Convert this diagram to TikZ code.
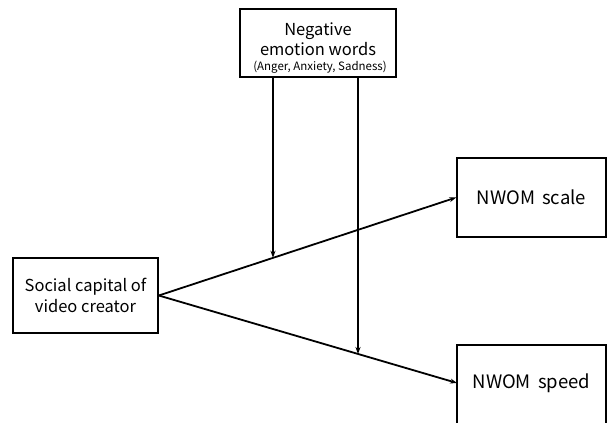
\documentclass[tikz,border=0pt]{standalone}
\usepackage{fontspec}
\setmainfont{Noto Sans CJK KR}
\usetikzlibrary{arrows.meta,calc}
\begin{document}
\begin{tikzpicture}[x=1pt,y=-1pt,
  box/.style={draw,line width=1.6pt,inner sep=0pt},
  conn/.style={line width=1.8pt,-{Stealth[length=7pt,width=5pt]}},
  vconn/.style={line width=1.4pt,-{Stealth[length=7pt,width=5pt]}}]
\useasboundingbox (0,0) rectangle (608,423);
\draw[box] (240,9) rectangle (396,77);
\node[align=center,font=\fontsize{16.5}{20}\selectfont] (negt) at (318,39) {Negative\\emotion words};
\node[font=\fontsize{11.5}{13}\selectfont] (negs) at (320,67) {(Anger, Anxiety, Sadness)};
\node[box,minimum width=145pt,minimum height=75pt,align=center,font=\fontsize{16.5}{21}\selectfont] (soc) at (85.5,295.5) {Social capital of\\video creator};
\node[box,minimum width=149pt,minimum height=79pt,font=\fontsize{18.5}{20}\selectfont] (sc) at (531.5,197.5) {NWOM\, scale};
\draw[box] (457,345) rectangle (606,440);
\node[font=\fontsize{18.5}{20}\selectfont] (sp) at (531.5,383) {NWOM\, speed};
\coordinate (spw) at (457,383);
\coordinate (t1) at (273,77);
\coordinate (t2) at (358,77);
\draw[conn] (soc.east) -- (sc.west);
\draw[conn] (soc.east) -- (spw);
\coordinate (m1) at ($(soc.east)!0.385!(sc.west)$);
\coordinate (m2) at ($(soc.east)!0.669!(spw)$);
\draw[vconn] (t1) -- (t1 |- m1);
\draw[vconn] (t2) -- (t2 |- m2);
\end{tikzpicture}
\end{document}
